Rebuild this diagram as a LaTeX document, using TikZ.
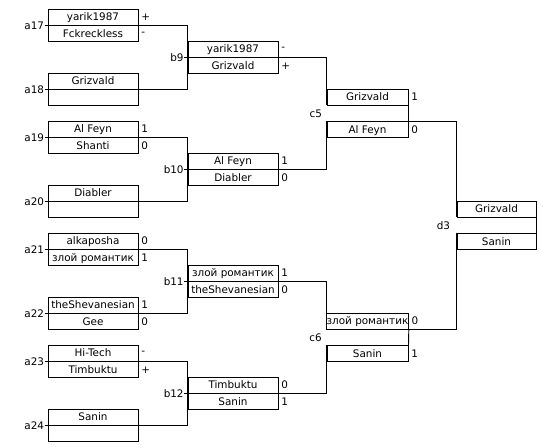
\documentclass[tikz,border=0pt]{standalone}
\usepackage{fontspec}
\setmainfont{DejaVu Sans}
\usetikzlibrary{positioning}
\begin{document}
\begin{tikzpicture}[x=0.75pt, y=-0.75pt, line width=0.7pt, font=\fontsize{7.8}{9}\selectfont,
    cell/.style={draw, minimum height=12pt, inner sep=0pt, text height=6pt, text depth=0pt},
    cella/.style={cell, minimum width=67.5pt},
    cellc/.style={cell, minimum width=60.75pt},
    celld/.style={cell, minimum width=59.25pt},
    lab/.style={inner sep=0pt},
    score/.style={inner sep=0pt}]
    \useasboundingbox (0,0) rectangle (543,448);
    % first round
    \node[cella] (a17t) at (93,17) {yarik1987};
    \node[cella, below=0pt of a17t] (a17b) {Fckreckless};
    \node[cella] (a18t) at (93,81) {Grizvald};
    \node[cella, below=0pt of a18t] (a18b) {};
    \node[cella] (a19t) at (93,129) {Al Feyn};
    \node[cella, below=0pt of a19t] (a19b) {Shanti};
    \node[cella] (a20t) at (93,193) {Diabler};
    \node[cella, below=0pt of a20t] (a20b) {};
    \node[cella] (a21t) at (93,241) {alkaposha};
    \node[cella, below=0pt of a21t] (a21b) {злой романтик};
    \node[cella] (a22t) at (93,305) {theShevanesian};
    \node[cella, below=0pt of a22t] (a22b) {Gee};
    \node[cella] (a23t) at (93,353) {Hi-Tech};
    \node[cella, below=0pt of a23t] (a23b) {Timbuktu};
    \node[cella] (a24t) at (93,417) {Sanin};
    \node[cella, below=0pt of a24t] (a24b) {};
    % second round
    \node[cella] (b9t) at (233,49) {yarik1987};
    \node[cella, below=0pt of b9t] (b9b) {Grizvald};
    \node[cella] (b10t) at (233,161) {Al Feyn};
    \node[cella, below=0pt of b10t] (b10b) {Diabler};
    \node[cella] (b11t) at (233,273) {злой романтик};
    \node[cella, below=0pt of b11t] (b11b) {theShevanesian};
    \node[cella] (b12t) at (233,385) {Timbuktu};
    \node[cella, below=0pt of b12t] (b12b) {Sanin};
    % semifinals and final
    \node[cellc] (c5t) at (367.5,97) {Grizvald};
    \node[cellc, below=12pt of c5t] (c5b) {Al Feyn};
    \node[cellc] (c6t) at (367.5,321) {злой романтик};
    \node[cellc, below=12pt of c6t] (c6b) {Sanin};
    \node[celld] (d3t) at (496.5,209) {Grizvald};
    \node[celld, below=12pt of d3t] (d3b) {Sanin};
    % labels
    \foreach \m in {17,18,...,24}
        \node[lab, left=2.25pt of a\m t.south west] (la\m) {a\m};
    \foreach \m in {9,10,11,12}
        \node[lab, left=2.6pt of b\m t.south west] (lb\m) {b\m};
    \node[lab, left=3pt of c5t.south west, yshift=-6pt] (lc5) {c5};
    \node[lab, left=3pt of c6t.south west, yshift=-6pt] (lc6) {c6};
    \node[lab, left=4.5pt of d3t.south west, yshift=-6pt] (ld3) {d3};
    \foreach \m in {17,18,...,24}
        \draw (la\m.east) -- (a\m t.south west);
    \foreach \m in {9,10,11,12}
        \draw (lb\m.east) -- (b\m t.south west);
    % scores
    \node[score, right=1.8pt of a17t.east] (s17t) {+};
    \node[score, right=1.8pt of a17b.east] (s17b) {-};
    \node[score, right=1.8pt of a19t.east] (s19t) {1};
    \node[score, right=1.8pt of a19b.east] (s19b) {0};
    \node[score, right=1.8pt of a21t.east] (s21t) {0};
    \node[score, right=1.8pt of a21b.east] (s21b) {1};
    \node[score, right=1.8pt of a22t.east] (s22t) {1};
    \node[score, right=1.8pt of a22b.east] (s22b) {0};
    \node[score, right=1.8pt of a23t.east] (s23t) {-};
    \node[score, right=1.8pt of a23b.east] (s23b) {+};
    \node[score, right=1.8pt of b9t.east] (s9t) {-};
    \node[score, right=1.8pt of b9b.east] (s9b) {+};
    \node[score, right=1.8pt of b10t.east] (s10t) {1};
    \node[score, right=1.8pt of b10b.east] (s10b) {0};
    \node[score, right=1.8pt of b11t.east] (s11t) {1};
    \node[score, right=1.8pt of b11b.east] (s11b) {0};
    \node[score, right=1.8pt of b12t.east] (s12t) {0};
    \node[score, right=1.8pt of b12b.east] (s12b) {1};
    \node[score, right=1.8pt of c5t.east] (s5t) {1};
    \node[score, right=1.8pt of c5b.east] (s5b) {0};
    \node[score, right=1.8pt of c6t.east] (s6t) {0};
    \node[score, right=1.8pt of c6b.east] (s6b) {1};
    % brackets
    \draw (a17t.south east) -| (b9t.north west) |- (a18t.south east);
    \draw (a19t.south east) -| (b10t.north west) |- (a20t.south east);
    \draw (a21t.south east) -| (b11t.north west) |- (a22t.south east);
    \draw (a23t.south east) -| (b12t.north west) |- (a24t.south east);
    \draw (b9t.south east) -| (c5t.south west);
    \draw (b10t.south east) -| (c5b.north west);
    \draw (b11t.south east) -| (c6t.south west);
    \draw (b12t.south east) -| (c6b.north west);
    \draw (c5t.south east) -- (c5b.north east);
    \draw (c6t.south east) -- (c6b.north east);
    \draw (c5b.north east) -| (d3t.south west);
    \draw (c6t.south east) -| (d3b.north west);
    \draw (d3t.south east) -- (d3b.north east);
\end{tikzpicture}
\end{document}
